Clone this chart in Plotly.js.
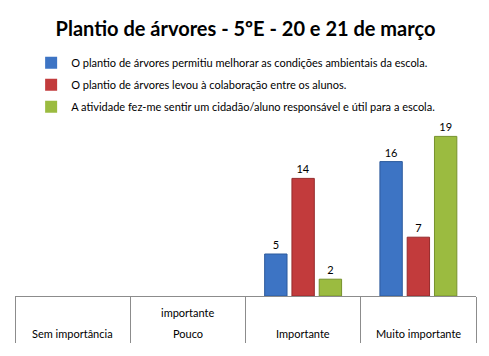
<!DOCTYPE html>
<html>
<head>
<meta charset="utf-8">
<script src="https://cdn.plot.ly/plotly-3.0.1.min.js"></script>
<style>html,body{margin:0;padding:0;background:#fff}#chart{width:489px;height:356px}</style>
</head>
<body>
<div id="chart"></div>
<script>
const categories = ['Sem importância', 'Pouco importante', 'Importante', 'Muito importante'];
const labelsBottom = ['Sem importância', 'Pouco', 'Importante', 'Muito importante'];
const labelsTop = ['', 'importante', '', ''];
const seriesNames = [
  'O plantio de árvores permitiu melhorar as condições ambientais da escola.',
  'O plantio de árvores levou à colaboração entre os alunos.',
  'A atividade fez-me sentir um cidadão/aluno responsável e útil para a escola.'
];
const melhorar = [0, 0, 5, 16];
const colaboracao = [0, 0, 14, 7];
const responsavel = [0, 0, 2, 19];
const colors = ['#3d74c4', '#c23b3c', '#9bbb40'];
const lines = ['#2c5a9c', '#952b2c', '#76922c'];

const series = [melhorar, colaboracao, responsavel];
const FONT = 'Lato, "Open Sans", sans-serif';
const traces = series.map((vals, i) => ({
  type: 'bar',
  x: categories,
  y: vals,
  name: seriesNames[i],
  legendgroup: 'g' + i,
  marker: {color: colors[i], line: {color: lines[i], width: vals.map(v => v > 0 ? 1 : 0)}},
  text: vals.map(v => v > 0 ? String(v) : ''),
  textposition: 'outside',
  textfont: {family: FONT, size: 11, color: '#000'},
  cliponaxis: false,
  hoverinfo: 'skip'
}));

const annotations = [];
categories.forEach((c, i) => {
  annotations.push({xref: 'x', yref: 'paper', x: c, y: -0.226, yanchor: 'middle',
    text: labelsBottom[i], showarrow: false, font: {family: FONT, size: 11, color: '#000'}});
  if (labelsTop[i]) annotations.push({xref: 'x', yref: 'paper', x: c, y: -0.101, yanchor: 'middle',
    text: labelsTop[i], showarrow: false, font: {family: FONT, size: 11, color: '#000'}});
});

const layout = {
  width: 489, height: 356,
  margin: {l: 15, r: 13, t: 128, b: 60},
  paper_bgcolor: '#fff', plot_bgcolor: '#fff',
  title: {text: '<b>Plantio de árvores - 5ºE - 20 e 21 de março</b>',
    font: {family: FONT, size: 20, color: '#000'},
    x: 0.5, xref: 'paper', y: 0.918, yref: 'container', yanchor: 'middle'},
  barmode: 'group', bargap: 0.29, bargroupgap: 0.18,
  showlegend: true,
  legend: {x: 0.035, y: 1.475, xanchor: 'left', yanchor: 'top', orientation: 'v',
    traceorder: 'grouped', tracegroupgap: 3,
    font: {family: FONT, size: 11, color: '#000'}, itemwidth: 30,
    bgcolor: 'rgba(0,0,0,0)'},
  xaxis: {type: 'category', categoryarray: categories, showticklabels: false,
    ticks: 'outside', tickson: 'boundaries', ticklen: 46, tickcolor: '#8c8c8c', tickwidth: 1,
    showline: true, linecolor: '#8c8c8c', linewidth: 1, showgrid: false, zeroline: false},
  yaxis: {range: [0, 20], visible: false, showgrid: false, zeroline: false},
  annotations: annotations
};

Plotly.newPlot('chart', traces, layout, {displayModeBar: false, staticPlot: true});
</script>
</body>
</html>
